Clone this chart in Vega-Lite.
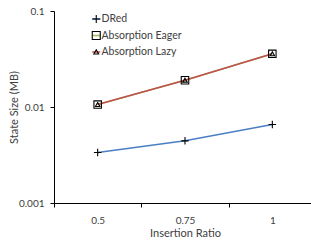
{
  "$schema": "https://vega.github.io/schema/vega-lite/v6.json",
  "width": 262,
  "height": 192,
  "autosize": {"type": "none"},
  "padding": {"left": 54, "top": 11, "right": 0, "bottom": 37},
  "config": {
    "view": {"stroke": null},
    "font": "Lato",
    "axis": {
      "domainColor": "#000",
      "tickColor": "#000",
      "labelColor": "#404040",
      "titleColor": "#404040",
      "labelFontSize": 10,
      "titleFontSize": 11,
      "titleFontWeight": "normal",
      "grid": false
    }
  },
  "data": {
    "values": [
      {"series": "DRed", "ratio": "0.5", "size": 0.00336},
      {"series": "DRed", "ratio": "0.75", "size": 0.00444},
      {"series": "DRed", "ratio": "1", "size": 0.00658},
      {"series": "Absorption Eager", "ratio": "0.5", "size": 0.0106},
      {"series": "Absorption Eager", "ratio": "0.75", "size": 0.019},
      {"series": "Absorption Eager", "ratio": "1", "size": 0.0358},
      {"series": "Absorption Lazy", "ratio": "0.5", "size": 0.0106},
      {"series": "Absorption Lazy", "ratio": "0.75", "size": 0.019},
      {"series": "Absorption Lazy", "ratio": "1", "size": 0.0358}
    ]
  },
  "encoding": {
    "x": {
      "field": "ratio",
      "type": "ordinal",
      "sort": ["0.5", "0.75", "1"],
      "scale": {"type": "band", "paddingInner": 0, "paddingOuter": 0},
      "bandPosition": 0.5,
      "axis": {
        "title": "Insertion Ratio",
        "labelAngle": 0,
        "tickBand": "extent",
        "tickSize": 4,
        "labelPadding": 8,
        "titlePadding": 2
      }
    },
    "y": {
      "field": "size",
      "type": "quantitative",
      "scale": {"type": "log", "domain": [0.001, 0.1], "nice": false},
      "axis": {
        "title": "State Size (MB)",
        "values": [0.001, 0.01, 0.1],
        "format": "~g",
        "tickSize": 4,
        "labelPadding": 6,
        "titlePadding": -1
      }
    }
  },
  "layer": [
    {
      "mark": {"type": "line", "strokeWidth": 1.5},
      "encoding": {
        "color": {
          "field": "series",
          "type": "nominal",
          "scale": {
            "domain": ["DRed", "Absorption Eager", "Absorption Lazy"],
            "range": ["#4A7EC4", "#9BBB59", "#C0504D"]
          },
          "legend": {
            "title": null,
            "orient": "none",
            "legendX": 37,
            "legendY": 2,
            "padding": 0,
            "symbolType": "stroke",
            "symbolSize": 64,
            "symbolStrokeWidth": 1.5,
            "labelFontSize": 10.5,
            "labelColor": "#404040",
            "labelOffset": 0,
            "clipHeight": 12,
            "rowPadding": 4.5
          }
        }
      }
    },
    {
      "mark": {"type": "point", "filled": false, "size": 56, "stroke": "#000", "strokeWidth": 1.1, "opacity": 1},
      "encoding": {
        "shape": {
          "field": "series",
          "type": "nominal",
          "sort": ["DRed", "Absorption Eager", "Absorption Lazy"],
          "scale": {
            "range": ["M-1,0H1M0,-1V1", "square", "M0,-0.55L0.6,0.5L-0.6,0.5Z"]
          },
          "legend": {
            "title": null,
            "orient": "none",
            "legendX": 37,
            "legendY": 2,
            "padding": 0,
            "symbolSize": 64,
            "symbolStrokeColor": "#000",
            "symbolFillColor": "transparent",
            "symbolStrokeWidth": 1.1,
            "labelFontSize": 10.5,
            "labelOpacity": 0,
            "labelOffset": 0,
            "clipHeight": 12,
            "rowPadding": 4.5
          }
        }
      }
    }
  ]
}
